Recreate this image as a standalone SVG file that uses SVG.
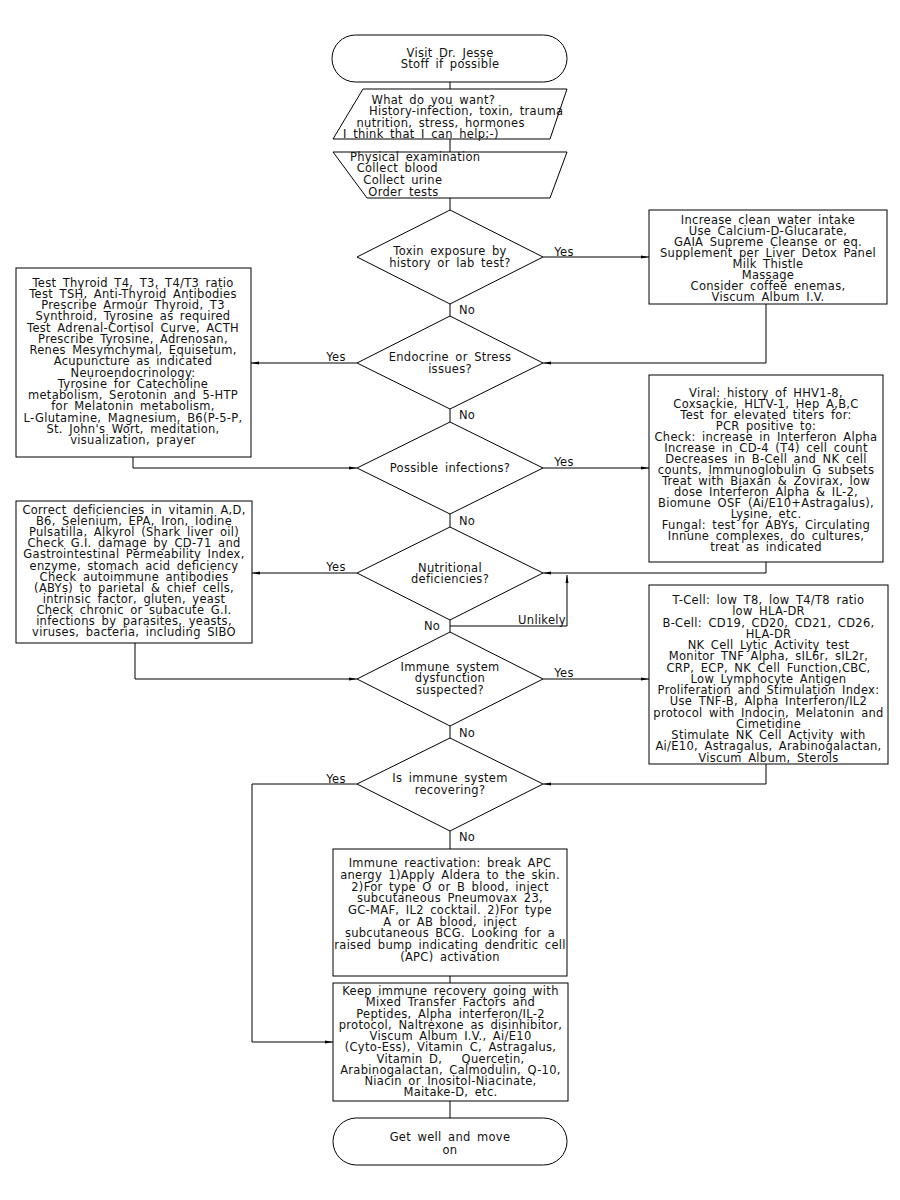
<svg xmlns="http://www.w3.org/2000/svg" width="900" height="1200" viewBox="0 0 900 1200">
<style>
.s{fill:#fff;stroke:#000;stroke-width:1}
.c{fill:none;stroke:#000;stroke-width:1}
text{font-family:"DejaVu Sans","Liberation Sans",sans-serif;font-size:11.5px;fill:#111;letter-spacing:0.3px;word-spacing:2.5px}
.m{text-anchor:middle}
</style>
<defs>
<marker id="ah" markerWidth="10" markerHeight="6" refX="8" refY="3" orient="auto" markerUnits="userSpaceOnUse"><path d="M0,1.5 L8,3 L0,4.5 z" fill="#000"/></marker>
</defs>
<rect width="900" height="1200" fill="#fff"/>

<g id="connectors">
<path class="c" d="M450,82V89M450,139V152M450,198V210M450,304V316M450,409V422M450,514V527M450,620V632M450,726V738M450,831V849M450,976V983M450,1101V1118"/>
<path class="c" d="M543,257H649" marker-end="url(#ah)"/>
<path class="c" d="M766,304V363H543" marker-end="url(#ah)"/>
<path class="c" d="M357,363H251" marker-end="url(#ah)"/>
<path class="c" d="M133,457V468H357" marker-end="url(#ah)"/>
<path class="c" d="M543,468H649" marker-end="url(#ah)"/>
<path class="c" d="M766,562V573H543" marker-end="url(#ah)"/>
<path class="c" d="M357,573H252" marker-end="url(#ah)"/>
<path class="c" d="M450,626H567V575" marker-end="url(#ah)"/>
<path class="c" d="M135,643V679H357" marker-end="url(#ah)"/>
<path class="c" d="M543,679H649" marker-end="url(#ah)"/>
<path class="c" d="M766,764V784H543" marker-end="url(#ah)"/>
<path class="c" d="M357,784H252V1042H333" marker-end="url(#ah)"/>
<text x="564" y="256" class="m">Yes</text>
<text x="467" y="314" class="m">No</text>
<text x="336" y="361" class="m">Yes</text>
<text x="467" y="419" class="m">No</text>
<text x="564" y="466" class="m">Yes</text>
<text x="467" y="525" class="m">No</text>
<text x="336" y="571" class="m">Yes</text>
<text x="432" y="630" class="m">No</text>
<text x="542" y="624" class="m">Unlikely</text>
<text x="564" y="677" class="m">Yes</text>
<text x="467" y="737" class="m">No</text>
<text x="336" y="783" class="m">Yes</text>
<text x="467" y="841" class="m">No</text>
</g>

<g id="start">
<rect class="s" x="332" y="35" width="235" height="47" rx="23.5"/>
<text class="m"><tspan x="450" y="56.5">Visit Dr. Jesse</tspan><tspan x="450" y="67.5">Stoff if possible</tspan></text>
</g>

<g id="input">
<polygon class="s" points="363,89 567,89 550,139 333,139"/>
<text><tspan x="371.5" y="104">What do you want?</tspan><tspan x="369" y="115">History-infection, toxin, trauma</tspan><tspan x="356.5" y="126.5">nutrition, stress, hormones</tspan><tspan x="343" y="137.5">I think that I can help;-)</tspan></text>
</g>

<g id="exam">
<polygon class="s" points="333,152 567,152 550,198 367,198"/>
<text><tspan x="350" y="160.7">Physical examination</tspan><tspan x="356.7" y="172.3">Collect blood</tspan><tspan x="363.3" y="184">Collect urine</tspan><tspan x="368.3" y="195.7">Order tests</tspan></text>
</g>

<g id="d-toxin">
<polygon class="s" points="450,210 543,257 450,304 357,257"/>
<text class="m"><tspan x="450" y="255">Toxin exposure by</tspan><tspan x="450" y="266.5">history or lab test?</tspan></text>
</g>

<g id="box-toxin">
<rect class="s" x="649" y="210" width="238" height="94"/>
<text class="m"><tspan x="768" y="223.5">Increase clean water intake</tspan><tspan x="768" dy="11.1">Use Calcium-D-Glucarate,</tspan><tspan x="768" dy="11.1">GAIA Supreme Cleanse or eq.</tspan><tspan x="768" dy="11.1">Supplement per Liver Detox Panel</tspan><tspan x="768" dy="11.1">Milk Thistle</tspan><tspan x="768" dy="11.1">Massage</tspan><tspan x="768" dy="11.1">Consider coffee enemas,</tspan><tspan x="768" dy="11.1">Viscum Album I.V.</tspan></text>
</g>

<g id="d-endocrine">
<polygon class="s" points="450,316 543,363 450,409 357,363"/>
<text class="m"><tspan x="450" y="360.7">Endocrine or Stress</tspan><tspan x="450" y="373">issues?</tspan></text>
</g>

<g id="box-endocrine">
<rect class="s" x="16" y="268" width="235" height="189"/>
<text class="m"><tspan x="133" y="286.7">Test Thyroid T4, T3, T4/T3 ratio</tspan><tspan x="133" dy="11.24">Test TSH, Anti-Thyroid Antibodies</tspan><tspan x="133" dy="11.24">Prescribe Armour Thyroid, T3</tspan><tspan x="133" dy="11.24">Synthroid, Tyrosine as required</tspan><tspan x="133" dy="11.24">Test Adrenal-Cortisol Curve, ACTH</tspan><tspan x="133" dy="11.24">Prescribe Tyrosine, Adrenosan,</tspan><tspan x="133" dy="11.24">Renes Mesymchymal, Equisetum,</tspan><tspan x="133" dy="11.24">Acupuncture as indicated</tspan><tspan x="133" dy="11.24">Neuroendocrinology:</tspan><tspan x="133" dy="11.24">Tyrosine for Catecholine</tspan><tspan x="133" dy="11.24">metabolism, Serotonin and 5-HTP</tspan><tspan x="133" dy="11.24">for Melatonin metabolism,</tspan><tspan x="133" dy="11.24">L-Glutamine, Magnesium, B6(P-5-P,</tspan><tspan x="133" dy="11.24">St. John's Wort, meditation,</tspan><tspan x="133" dy="11.24">visualization, prayer</tspan></text>
</g>

<g id="d-infection">
<polygon class="s" points="450,422 543,468 450,514 357,468"/>
<text class="m" x="450" y="472.3">Possible infections?</text>
</g>

<g id="box-infection">
<rect class="s" x="649" y="375" width="234" height="187"/>
<text class="m"><tspan x="766" y="397.3">Viral: history of HHV1-8,</tspan><tspan x="766" dy="10.96">Coxsackie, HLTV-1, Hep A,B,C</tspan><tspan x="766" dy="10.96">Test for elevated titers for:</tspan><tspan x="766" dy="10.96">PCR positive to:</tspan><tspan x="766" dy="10.96">Check: increase in Interferon Alpha</tspan><tspan x="766" dy="10.96">Increase in CD-4 (T4) cell count</tspan><tspan x="766" dy="10.96">Decreases in B-Cell and NK cell</tspan><tspan x="766" dy="10.96">counts, Immunoglobulin G subsets</tspan><tspan x="766" dy="10.96">Treat with Biaxan &amp; Zovirax, low</tspan><tspan x="766" dy="10.96">dose Interferon Alpha &amp; IL-2,</tspan><tspan x="766" dy="10.96">Biomune OSF (Ai/E10+Astragalus),</tspan><tspan x="766" dy="10.96">Lysine, etc.</tspan><tspan x="766" dy="10.96">Fungal: test for ABYs, Circulating</tspan><tspan x="766" dy="10.96">Innune complexes, do cultures,</tspan><tspan x="766" dy="10.96">treat as indicated</tspan></text>
</g>

<g id="d-nutrition">
<polygon class="s" points="450,527 543,573 450,620 357,573"/>
<text class="m"><tspan x="450" y="572.3">Nutritional</tspan><tspan x="450" y="583.3">deficiencies?</tspan></text>
</g>

<g id="box-nutrition">
<rect class="s" x="16" y="501" width="236" height="142"/>
<text class="m"><tspan x="134" y="514">Correct deficiencies in vitamin A,D,</tspan><tspan x="134" dy="11.12">B6, Selenium, EPA, Iron, Iodine</tspan><tspan x="134" dy="11.12">Pulsatilla, Alkyrol (Shark liver oil)</tspan><tspan x="134" dy="11.12">Check G.I. damage by CD-71 and</tspan><tspan x="134" dy="11.12">Gastrointestinal Permeability Index,</tspan><tspan x="134" dy="11.12">enzyme, stomach acid deficiency</tspan><tspan x="134" dy="11.12">Check autoimmune antibodies</tspan><tspan x="134" dy="11.12">(ABYs) to parietal &amp; chief cells,</tspan><tspan x="134" dy="11.12">intrinsic factor, gluten, yeast</tspan><tspan x="134" dy="11.12">Check chronic or subacute G.I.</tspan><tspan x="134" dy="11.12">infections by parasites, yeasts,</tspan><tspan x="134" dy="11.12">viruses, bacteria, including SIBO</tspan></text>
</g>

<g id="d-immune">
<polygon class="s" points="450,632 543,679 450,726 357,679"/>
<text class="m"><tspan x="450" y="670.7">Immune system</tspan><tspan x="450" y="682.3">dysfunction</tspan><tspan x="450" y="694">suspected?</tspan></text>
</g>

<g id="box-immune">
<rect class="s" x="649" y="585" width="239" height="179"/>
<text class="m"><tspan x="768.5" y="604">T-Cell: low T8, low T4/T8 ratio</tspan><tspan x="768.5" dy="11.26">low HLA-DR</tspan><tspan x="768.5" dy="11.26">B-Cell: CD19, CD20, CD21, CD26,</tspan><tspan x="768.5" dy="11.26">HLA-DR</tspan><tspan x="768.5" dy="11.26">NK Cell Lytic Activity test</tspan><tspan x="768.5" dy="11.26">Monitor TNF Alpha, sIL6r, sIL2r,</tspan><tspan x="768.5" dy="11.26">CRP, ECP, NK Cell Function,CBC,</tspan><tspan x="768.5" dy="11.26">Low Lymphocyte Antigen</tspan><tspan x="768.5" dy="11.26">Proliferation and Stimulation Index:</tspan><tspan x="768.5" dy="11.26">Use TNF-B, Alpha Interferon/IL2</tspan><tspan x="768.5" dy="11.26">protocol with Indocin, Melatonin and</tspan><tspan x="768.5" dy="11.26">Cimetidine</tspan><tspan x="768.5" dy="11.26">Stimulate NK Cell Activity with</tspan><tspan x="768.5" dy="11.26">Ai/E10, Astragalus, Arabinogalactan,</tspan><tspan x="768.5" dy="11.26">Viscum Album, Sterols</tspan></text>
</g>

<g id="d-recovering">
<polygon class="s" points="450,738 543,784 450,831 357,784"/>
<text class="m"><tspan x="450" y="782.3">Is immune system</tspan><tspan x="450" y="794">recovering?</tspan></text>
</g>

<g id="box-reactivation">
<rect class="s" x="333" y="849" width="234" height="127"/>
<text class="m"><tspan x="450" y="867.3">Immune reactivation: break APC</tspan><tspan x="450" dy="11.67">anergy 1)Apply Aldera to the skin.</tspan><tspan x="450" dy="11.67">2)For type O or B blood, inject</tspan><tspan x="450" dy="11.67">subcutaneous Pneumovax 23,</tspan><tspan x="450" dy="11.67">GC-MAF, IL2 cocktail. 2)For type</tspan><tspan x="450" dy="11.67">A or AB blood, inject</tspan><tspan x="450" dy="11.67">subcutaneous BCG. Looking for a</tspan><tspan x="450" dy="11.67">raised bump indicating dendritic cell</tspan><tspan x="450" dy="11.67">(APC) activation</tspan></text>
</g>

<g id="box-recovery">
<rect class="s" x="333" y="983" width="235" height="118"/>
<text class="m"><tspan x="450.5" y="995">Keep immune recovery going with</tspan><tspan x="450.5" dy="11.26">Mixed Transfer Factors and</tspan><tspan x="450.5" dy="11.26">Peptides, Alpha interferon/IL-2</tspan><tspan x="450.5" dy="11.26">protocol, Naltrexone as disinhibitor,</tspan><tspan x="450.5" dy="11.26">Viscum Album I.V., Ai/E10</tspan><tspan x="450.5" dy="11.26">(Cyto-Ess), Vitamin C, Astragalus,</tspan><tspan x="450.5" dy="11.26">Vitamin D,&#160;&#160; Quercetin,</tspan><tspan x="450.5" dy="11.26">Arabinogalactan, Calmodulin, Q-10,</tspan><tspan x="450.5" dy="11.26">Niacin or Inositol-Niacinate,</tspan><tspan x="450.5" dy="11.26">Maitake-D, etc.</tspan></text>
</g>

<g id="end">
<rect class="s" x="333" y="1118" width="234" height="47" rx="23.5"/>
<text class="m"><tspan x="450" y="1140.7">Get well and move</tspan><tspan x="450" y="1154">on</tspan></text>
</g>
</svg>
